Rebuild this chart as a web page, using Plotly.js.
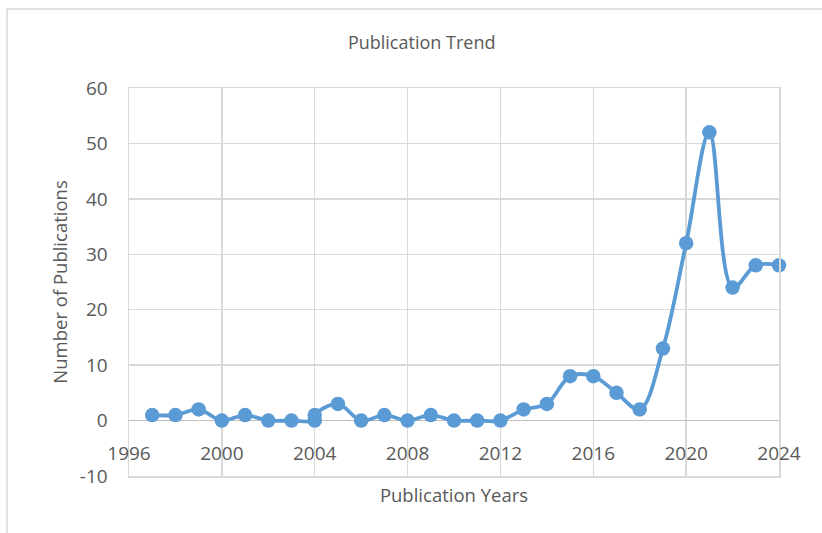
<!DOCTYPE html>
<html>
<head>
<meta charset="utf-8">
<script src="https://cdn.plot.ly/plotly-3.0.1.min.js"></script>
<style>html,body{margin:0;padding:0;background:#fff;}#chart{width:822px;height:533px;}</style>
</head>
<body>
<div id="chart"></div>
<script>
const years = [1997, 1998, 1999, 2000, 2001, 2002, 2003, 2004, 2004, 2005, 2006, 2007, 2008, 2009, 2010, 2011, 2012, 2013, 2014, 2015, 2016, 2017, 2018, 2019, 2020, 2021, 2022, 2023, 2024];
const publications = [1, 1, 2, 0, 1, 0, 0, 0, 1, 3, 0, 1, 0, 1, 0, 0, 0, 2, 3, 8, 8, 5, 2, 13, 32, 52, 24, 28, 28];
const yTickValues = [-10, 0, 10, 20, 30, 40, 50, 60];
const yTickLabels = ["-10", "0", "10", "20", "30", "40", "50", "60"];
const titleText = "Publication Trend";
const xTitle = "Publication Years";
const yTitle = "Number of Publications";

const font = "'Open Sans', sans-serif";

Plotly.newPlot('chart', [{
  x: years,
  y: publications,
  type: 'scatter',
  mode: 'lines+markers',
  cliponaxis: false,
  line: {color: '#5b9bd5', width: 3.8, shape: 'spline', smoothing: 1},
  marker: {color: '#5b9bd5', size: 14.5},
  hoverinfo: 'x+y'
}], {
  width: 822, height: 533,
  margin: {l: 129, r: 43, t: 88, b: 57},
  paper_bgcolor: '#ffffff', plot_bgcolor: '#ffffff',
  showlegend: false,
  font: {family: font, color: '#595959'},
  title: {text: titleText, font: {family: font, size: 18, color: '#595959'}, x: 0.513, xanchor: 'center', y: 0.919, yanchor: 'middle'},
  xaxis: {
    range: [1996, 2024], dtick: 4, tick0: 1996,
    showgrid: true, gridcolor: '#d9d9d9', gridwidth: 1.5,
    showline: true, mirror: true, linecolor: '#d9d9d9', linewidth: 1.5,
    zeroline: false, ticks: '',
    tickfont: {family: font, size: 19, color: '#595959'},
    ticklabelstandoff: -40,
    title: {text: xTitle, font: {family: font, size: 18.5, color: '#595959'}, standoff: 24}
  },
  yaxis: {
    range: [-10, 60], tickmode: 'array', tickvals: yTickValues, ticktext: yTickLabels,
    showgrid: true, gridcolor: '#d9d9d9', gridwidth: 1.5,
    showline: true, mirror: true, linecolor: '#d9d9d9', linewidth: 1.5,
    zeroline: true, zerolinecolor: '#bfbfbf', zerolinewidth: 1.5,
    ticks: '',
    tickfont: {family: font, size: 19, color: '#595959'},
    ticklabelstandoff: 16,
    title: {text: yTitle, font: {family: font, size: 18.5, color: '#595959'}, standoff: 7}
  },
  shapes: [{
    type: 'rect', xref: 'paper', yref: 'paper',
    x0: -0.1877, x1: 1.08, y0: -0.17, y1: 1.2036,
    line: {color: '#d9d9d9', width: 1.5}, fillcolor: 'rgba(0,0,0,0)', layer: 'below'
  }]
}, {displayModeBar: false, staticPlot: true});
</script>
</body>
</html>
